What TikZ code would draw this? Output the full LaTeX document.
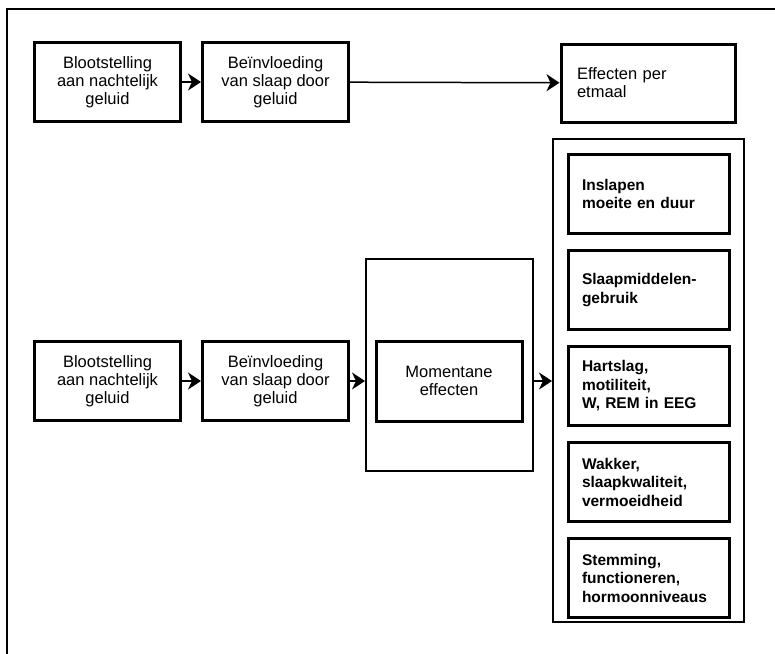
\documentclass[tikz,border=0pt]{standalone}
\usepackage{fontspec}
\setmainfont{Liberation Sans}
\usetikzlibrary{arrows.meta, positioning}

\begin{document}
\begin{tikzpicture}[
    x=1pt, y=-1pt,
    node distance=19pt,
    block/.style={rectangle, draw, line width=3pt, minimum height=79pt, minimum width=146pt, align=center, font=\fontsize{16.5}{18}\selectfont},
    effect/.style={rectangle, draw, line width=3pt, minimum height=79pt, minimum width=161pt, inner xsep=14pt, text width=133pt, align=left, font=\bfseries\fontsize{15.5}{18.5}\selectfont},
    group/.style={rectangle, draw, line width=2pt},
    arrow/.style={-{Stealth[length=13pt, width=17pt, inset=4pt]}, line width=1.5pt}
]
    \useasboundingbox (0,0) rectangle (775,653);
    \clip (0,0) rectangle (775,653);
    \draw[line width=2.5pt] (7,9) rectangle (800,680);

    \node[block] (bloot1) at (107.5,82) {Blootstelling\\aan nachtelijk\\geluid};
    \node[block, right=of bloot1] (bein1) {Beïnvloeding\\van slaap door\\geluid};
    \node[block, minimum width=174pt, minimum height=78pt, inner xsep=16pt, text width=142pt, align=left] (etmaal) at (648,83) {Effecten per\\etmaal};

    \node[block] (bloot2) at (107.5,381) {Blootstelling\\aan nachtelijk\\geluid};
    \node[block, right=of bloot2] (bein2) {Beïnvloeding\\van slaap door\\geluid};
    \node[group, minimum width=167pt, minimum height=212pt] (moment) at (449.5,365) {};
    \node[block, minimum width=146pt, minimum height=80pt] (momentaan) at (449,381) {Momentane\\effecten};

    \node[group, minimum width=191pt, minimum height=483pt] (kolom) at (648.5,380.5) {};
    \node[effect] (inslapen) at (648.5,194) {Inslapen\\moeite en duur};
    \node[effect, below=14pt of inslapen] (middelen) {Slaapmiddelen-\\gebruik};
    \node[effect, below=14pt of middelen] (hartslag) {Hartslag,\\motiliteit,\\W, REM in EEG};
    \node[effect, below=14pt of hartslag] (wakker) {Wakker,\\slaapkwaliteit,\\vermoeidheid};
    \node[effect, below=14pt of wakker] (stemming) {Stemming,\\functioneren,\\hormoonniveaus};

    \draw[arrow] (bloot1) -- (bein1);
    \draw[arrow] (bein1) -- (etmaal);
    \draw[arrow] (bloot2) -- (bein2);
    \draw[arrow] (bein2.east) -- (bein2.east -| moment.west);
    \draw[arrow] (momentaan.east -| moment.east) -- (momentaan.east -| kolom.west);
\end{tikzpicture}
\end{document}
